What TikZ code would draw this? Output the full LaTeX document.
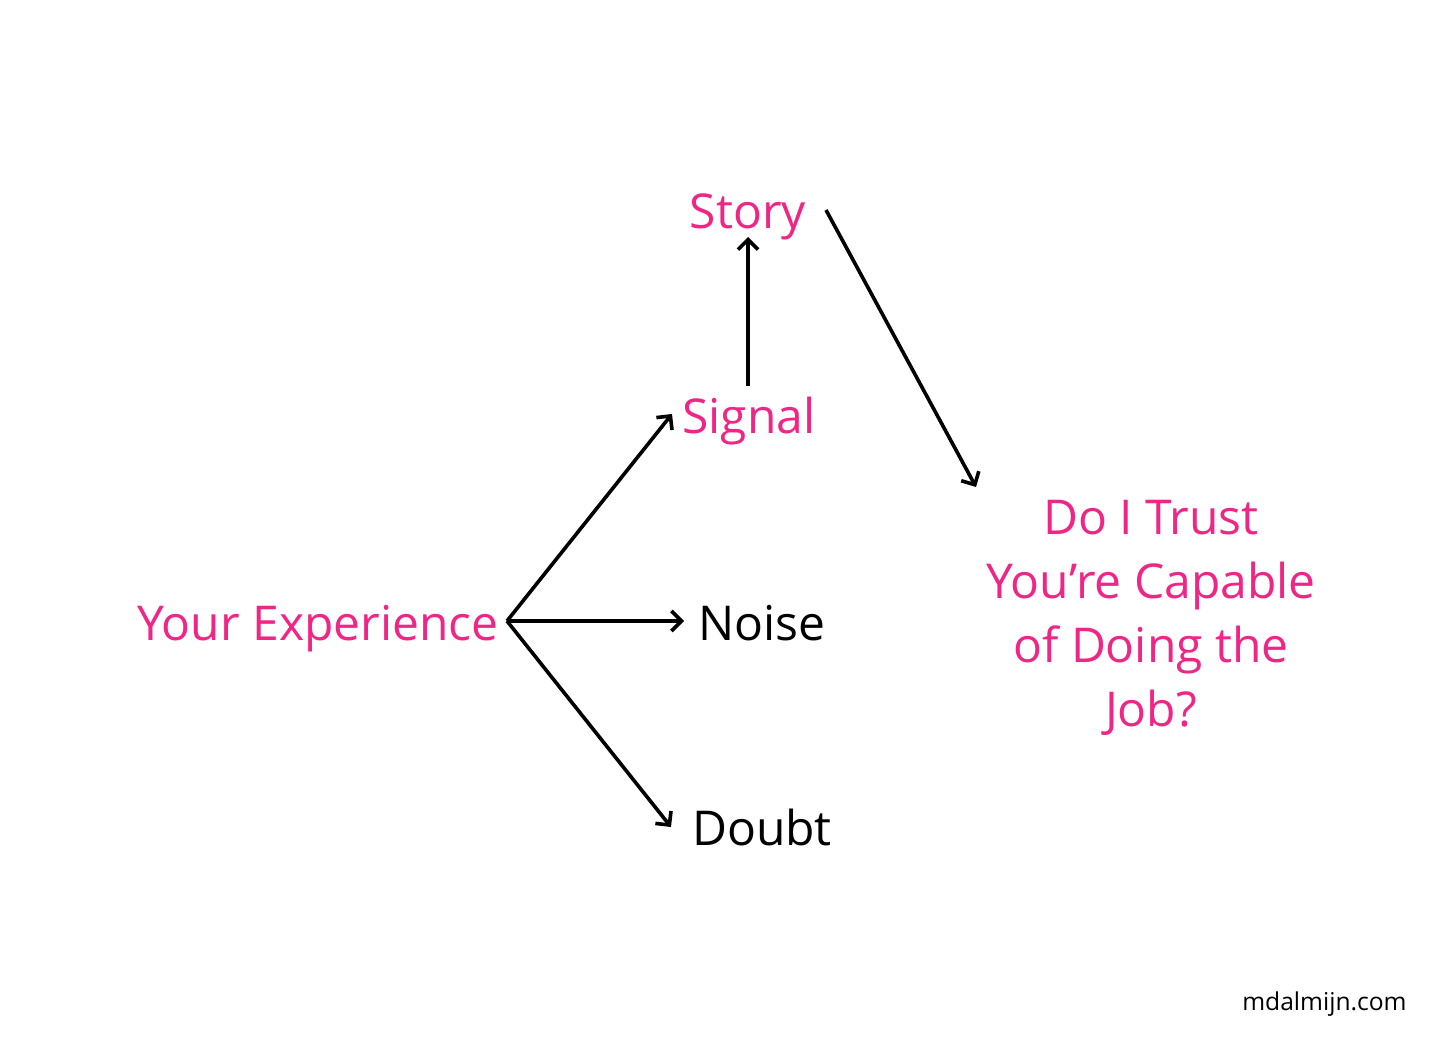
\documentclass[tikz,border=0pt]{standalone}
\usepackage{fontspec}
\setmainfont{Open Sans}
\usetikzlibrary{arrows.meta}
\definecolor{pinkc}{RGB}{240,38,135}
\begin{document}
\begin{tikzpicture}[x=0.5pt,y=-0.5pt,
  lbl/.style={font=\fontsize{24}{32}\selectfont, inner sep=0pt, anchor=base},
  pinklbl/.style={lbl, text=pinkc},
  blacklbl/.style={lbl, text=black},
  arr/.style={draw=black, line width=1.8pt, -{Straight Barb[length=5pt,width=10pt,line width=1.8pt]}}]
\useasboundingbox[fill=white] (0,0) rectangle (1456,1048);
% nodes
\node[pinklbl] (story) at (748,229) {Story};
\node[pinklbl] (signal) at (749,433) {Signal};
\node[pinklbl] (exp) at (318,640) {Your Experience};
\node[blacklbl] (noise) at (762,640) {Noise};
\node[blacklbl] (doubt) at (762,845) {Doubt};
\node[pinklbl, align=center, anchor=north] (trust) at (1151,500) {Do I Trust\\You’re Capable\\of Doing the\\Job?};
\node[font=\fontsize{12.3}{14}\selectfont, inner sep=0pt, anchor=base east] (mark) at (1407,1010) {mdalmijn.com};
% connector end points
\coordinate (o) at (507,621);
\coordinate (sigTip) at (672,414);
\coordinate (noiseTip) at (684,621);
\coordinate (doubtTip) at (671,827);
\coordinate (sigTop) at (748,386);
\coordinate (storyTip) at (748,237);
\coordinate (storyOut) at (826,210);
\coordinate (trustTip) at (976,487);
% connectors
\draw[arr] (o) -- (sigTip);
\draw[arr] (o) -- (noiseTip);
\draw[arr] (o) -- (doubtTip);
\draw[arr] (sigTop) -- (storyTip);
\draw[arr] (storyOut) -- (trustTip);
\end{tikzpicture}
\end{document}
